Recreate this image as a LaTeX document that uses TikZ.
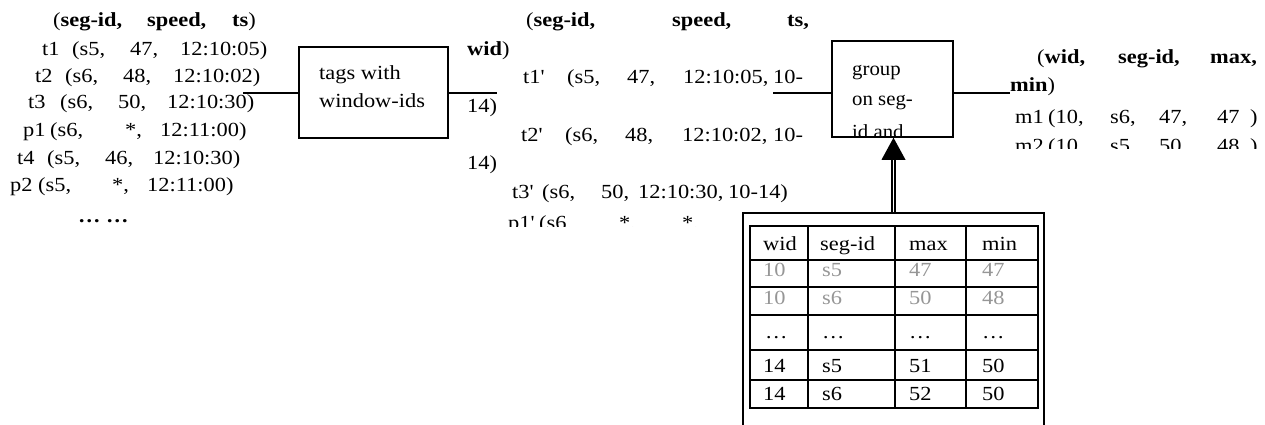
\documentclass[tikz,border=0pt]{standalone}
\usepackage{fontspec}
\setmainfont{Liberation Serif}[FakeStretch=1.12]
\newfontfamily\grpfont{Liberation Serif}[FakeStretch=1.04]
\usetikzlibrary{arrows.meta}
\definecolor{fadegray}{RGB}{150,150,150}
\newcommand{\cb}[2]{\makebox[#1pt][l]{#2}}
\newcommand{\pr}{\textquotesingle}
\begin{document}
\begin{tikzpicture}[x=1pt,y=-1pt,
  txt/.style={inner sep=0pt, anchor=base west, font=\fontsize{20pt}{24pt}\selectfont},
  gtxt/.style={inner sep=0pt, anchor=base west, font=\grpfont\fontsize{20pt}{24pt}\selectfont},
  procbox/.style={draw, line width=1.5pt, inner sep=0pt},
  conn/.style={line width=1.5pt},
  dbl/.style={double, line width=1.7pt, double distance=1.8pt},
  tline/.style={line width=1.3pt},
  faded/.style={text=fadegray}]
\useasboundingbox (0,0) rectangle (1265,425);

% ---------- left stream ----------
\node[txt] (lh) at (53,27) {\cb{94}{(\textbf{seg-id,}}\cb{85}{\textbf{speed,}}\textbf{ts})};
\node[txt] (l1) at (42,56) {\cb{30}{t1}\cb{58}{(s5,}\cb{50}{47,}12:10:05)};
\node[txt] (l2) at (35,83) {\cb{30}{t2}\cb{58}{(s6,}\cb{50}{48,}12:10:02)};
\node[txt] (l3) at (28,109) {\cb{32}{t3}\cb{58}{(s6,}\cb{49}{50,}12:10:30)};
\node[txt] (l4) at (23,136) {\cb{27}{p1}\cb{75}{(s6,}\cb{35}{*,}12:11:00)};
\node[txt] (l5) at (17,164) {\cb{30}{t4}\cb{58}{(s5,}\cb{48}{46,}12:10:30)};
\node[txt] (l6) at (10,191) {\cb{28}{p2}\cb{74}{(s5,}\cb{35}{*,}12:11:00)};
\node[txt] (l7) at (78,222) {\textbf{\ldots\ \ldots}};

% ---------- tags box ----------
\node[procbox, minimum width=149pt, minimum height=91pt] (tag) at (373.5,92.5) {};
\node[txt] (tag1) at (319,80) {tags with};
\node[txt] (tag2) at (319,108) {window-ids};
\coordinate (lin) at (243,93);
\draw[conn] (lin) -- (lin -| tag.west);
\coordinate (mout) at (497,93);
\draw[conn] (tag.east |- mout) -- (mout);

% ---------- middle stream ----------
\begin{scope}
\clip (455,0) rectangle (830,226);
\node[txt] (mh) at (526,27) {\cb{146}{(\textbf{seg-id,}}\cb{115}{\textbf{speed,}}\textbf{ts,}};
\node[txt] (mw) at (467,56) {\textbf{wid})};
\node[txt] (m1) at (523,84) {\cb{44}{t1\pr}\cb{60}{(s5,}\cb{56}{47,}\cb{90}{12:10:05,}10-};
\node[txt] (m1b) at (467,113) {14)};
\node[txt] (m2) at (521,141) {\cb{44}{t2\pr}\cb{60}{(s6,}\cb{57}{48,}\cb{91}{12:10:02,}10-};
\node[txt] (m2b) at (467,169) {14)};
\node[txt] (m3) at (512,198) {\cb{30}{t3\pr}\cb{59}{(s6,}\cb{37}{50,}\cb{90}{12:10:30,}10-14)};
\node[txt] (m4) at (508,229) {\cb{31}{p1\pr}\cb{80}{(s6,}\cb{63}{*,}*,};
\end{scope}

% ---------- group box ----------
\node[procbox, minimum width=121pt, minimum height=96pt] (grp) at (892.5,89) {};
\begin{scope}
\clip (832,41) rectangle (953,136.3);
\node[gtxt] (g1) at (852,76) {group};
\node[gtxt] (g2) at (852,106) {on seg-};
\node[gtxt] (g3) at (852,139) {id and};
\end{scope}
\coordinate (gin) at (773,93);
\draw[conn] (gin) -- (gin -| grp.west);
\coordinate (rin) at (1010,93);
\draw[conn] (grp.east |- rin) -- (rin);

% ---------- right stream ----------
\begin{scope}
\clip (1000,0) rectangle (1265,148);
\node[txt] (rh) at (1037,64) {\cb{81}{(\textbf{wid,}}\cb{92}{\textbf{seg-id,}}\textbf{max,}};
\node[txt] (rm) at (1010,92) {\textbf{min})};
\node[txt] (r1) at (1015,124) {\cb{33}{m1}\cb{62}{(10,}\cb{49}{s6,}\cb{58}{47,}\cb{33}{47})};
\node[txt] (r2) at (1015,152) {\cb{33}{m2}\cb{62}{(10,}\cb{49}{s5,}\cb{58}{50,}\cb{33}{48})};
\end{scope}

% ---------- state frame and table ----------
\node[draw, line width=1.5pt, minimum width=301pt, minimum height=240pt, inner sep=0pt] (frame) at (893.5,333) {};
\draw[dbl] (frame.north) -- ([yshift=-22pt]frame.north |- grp.south);
\fill (frame.north |- grp.south) -- ++(-12,22) -- ++(24,0) -- cycle;

\draw[tline] (750,226) rectangle (1038,408);
\foreach \yy in {260,287,315,350,380} \draw[tline] (750,\yy) -- (1038,\yy);
\foreach \xx in {808,895,966} \draw[tline] (\xx,226) -- (\xx,408);

\node[txt] (h1) at (763,250) {wid};
\node[txt] (h2) at (820,250) {seg-id};
\node[txt] (h3) at (909,250) {max};
\node[txt] (h4) at (982,250) {min};
\node[txt,faded] (a1) at (763,276) {10};
\node[txt,faded] (a2) at (822,276) {s5};
\node[txt,faded] (a3) at (909,276) {47};
\node[txt,faded] (a4) at (982,276) {47};
\node[txt,faded] (b1) at (763,304) {10};
\node[txt,faded] (b2) at (822,304) {s6};
\node[txt,faded] (b3) at (909,304) {50};
\node[txt,faded] (b4) at (982,304) {48};
\node[txt] (c1) at (765,338) {\ldots};
\node[txt] (c2) at (822,338) {\ldots};
\node[txt] (c3) at (909,338) {\ldots};
\node[txt] (c4) at (982,338) {\ldots};
\node[txt] (d1) at (763,372) {14};
\node[txt] (d2) at (822,372) {s5};
\node[txt] (d3) at (909,372) {51};
\node[txt] (d4) at (982,372) {50};
\node[txt] (e1) at (763,400) {14};
\node[txt] (e2) at (822,400) {s6};
\node[txt] (e3) at (909,400) {52};
\node[txt] (e4) at (982,400) {50};
\end{tikzpicture}
\end{document}
